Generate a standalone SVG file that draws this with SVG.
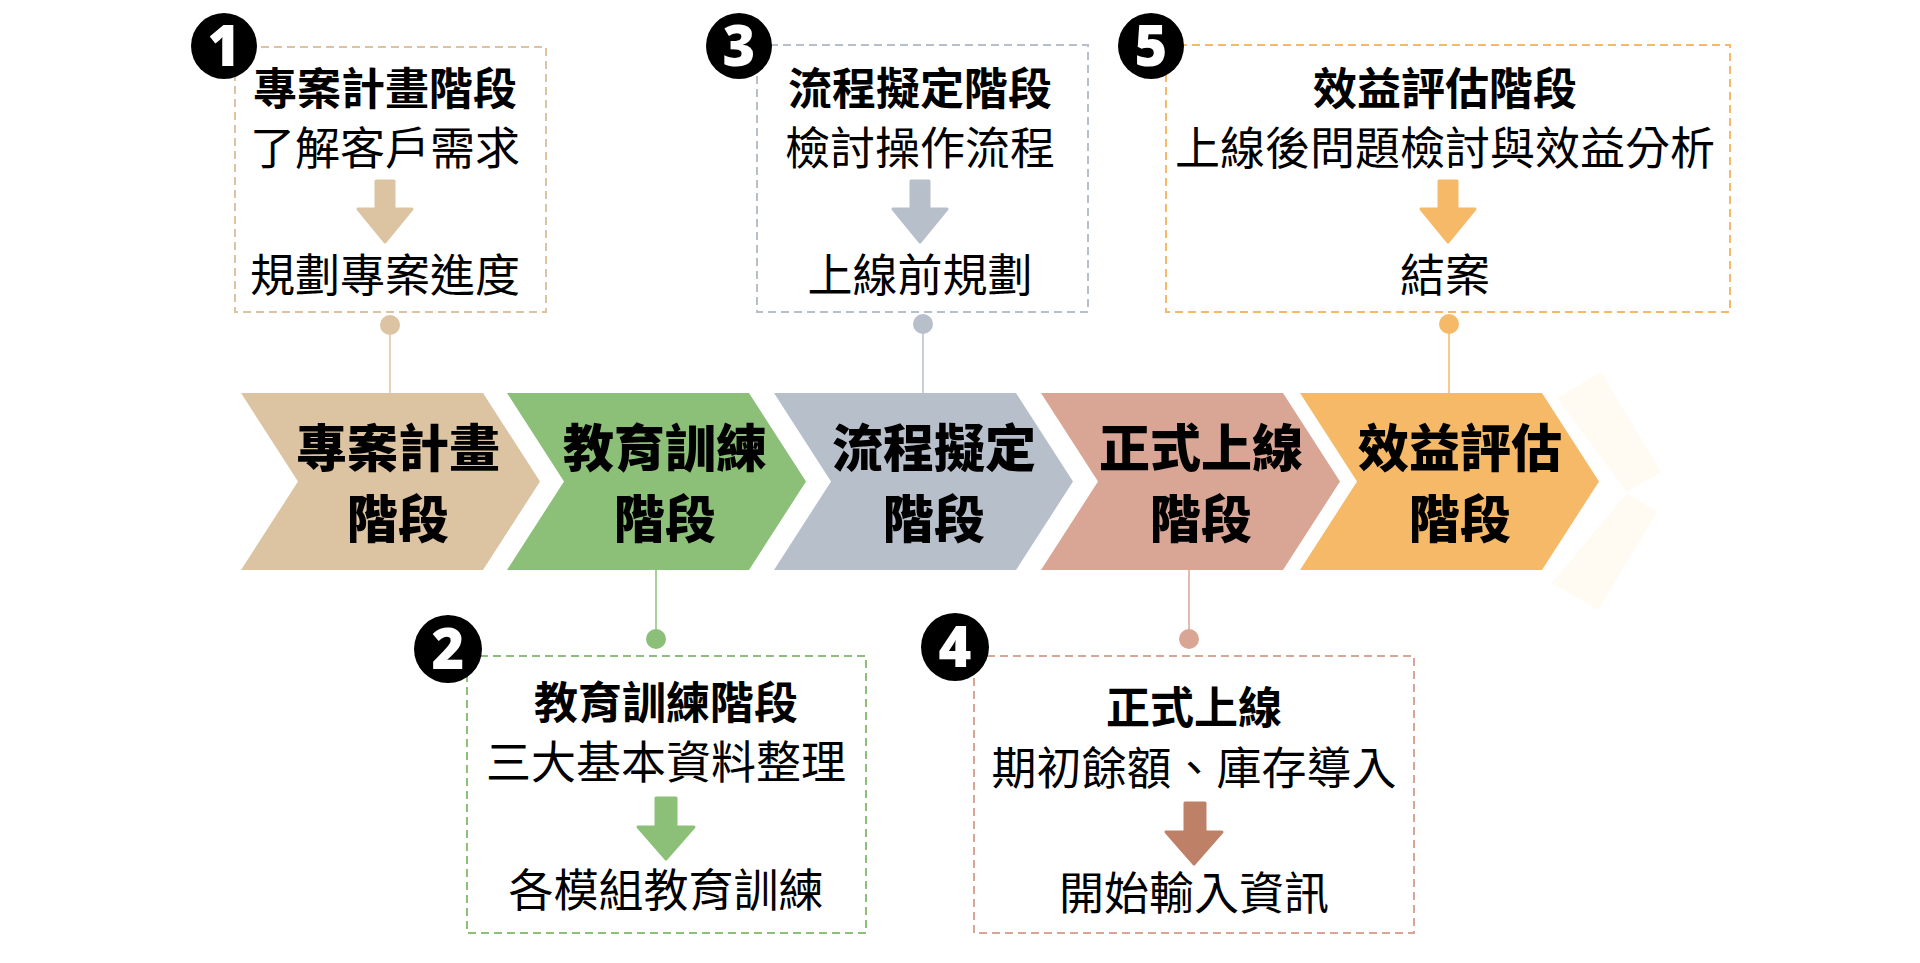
<svg xmlns="http://www.w3.org/2000/svg" width="1920" height="963" viewBox="0 0 1920 963">
<style>
.cjk{font-family:"Noto Sans CJK TC","Noto Sans CJK SC",sans-serif;text-anchor:middle;fill:#000}
.chev{font-size:51px;font-weight:900}
.ttl{font-size:44px;font-weight:700}
.txt{font-size:45px;font-weight:400}
.box{fill:none;stroke-width:2;stroke-dasharray:8 5}
.badge circle{fill:#000}
.badge text{font-family:"Noto Sans","DejaVu Sans",sans-serif;font-weight:900;font-size:56px;fill:#fff;text-anchor:middle}
.link{stroke-width:1.5;fill:none}
</style>
<rect width="1920" height="963" fill="#fff"/>

<!-- faint trailing chevron -->
<g id="faint">
<polygon points="1557,398 1601,372 1661,472 1627,492" fill="#FFFAF2"/>
<polygon points="1627,493 1657,512 1598,610 1552,583" fill="#FFFAF2"/>
</g>

<!-- connectors -->
<g id="connectors">
<line class="link" x1="390" y1="325" x2="390" y2="393" stroke="#DCC3A1"/>
<circle cx="390" cy="325" r="10" fill="#DCC3A1"/>
<line class="link" x1="923" y1="324" x2="923" y2="393" stroke="#B7BFCB"/>
<circle cx="923" cy="324" r="10" fill="#B7BFCB"/>
<line class="link" x1="1449" y1="324" x2="1449" y2="393" stroke="#F5B968"/>
<circle cx="1449" cy="324" r="10" fill="#F5B968"/>
<line class="link" x1="656" y1="570" x2="656" y2="639" stroke="#8CBF78"/>
<circle cx="656" cy="639" r="10" fill="#8CBF78"/>
<line class="link" x1="1189" y1="570" x2="1189" y2="639" stroke="#D9A594"/>
<circle cx="1189" cy="639" r="10" fill="#D9A594"/>
</g>

<!-- chevrons -->
<g id="chevron1">
<polygon points="241,393 483,393 540,481.5 483,570 241,570 298,481.5" fill="#DCC3A1"/>
<text class="cjk chev" x="398" y="467">專案計畫</text>
<text class="cjk chev" x="398" y="538">階段</text>
</g>
<g id="chevron2">
<polygon points="507,393 749,393 806,481.5 749,570 507,570 564,481.5" fill="#8CBF78"/>
<text class="cjk chev" x="665" y="467">教育訓練</text>
<text class="cjk chev" x="665" y="538">階段</text>
</g>
<g id="chevron3">
<polygon points="774,393 1016,393 1073,481.5 1016,570 774,570 831,481.5" fill="#B7BFCB"/>
<text class="cjk chev" x="934" y="467">流程擬定</text>
<text class="cjk chev" x="934" y="538">階段</text>
</g>
<g id="chevron4">
<polygon points="1041,393 1283,393 1340,481.5 1283,570 1041,570 1098,481.5" fill="#D9A594"/>
<text class="cjk chev" x="1201" y="467">正式上線</text>
<text class="cjk chev" x="1201" y="538">階段</text>
</g>
<g id="chevron5">
<polygon points="1300,393 1542,393 1599,481.5 1542,570 1300,570 1357,481.5" fill="#F5B968"/>
<text class="cjk chev" x="1460" y="467">效益評估</text>
<text class="cjk chev" x="1460" y="538">階段</text>
</g>

<!-- box 1 -->
<g id="box1">
<rect class="box" x="235" y="47" width="311" height="265" stroke="#DCC3A1"/>
<text class="cjk ttl" x="385" y="105">專案計畫階段</text>
<text class="cjk txt" x="385" y="165">了解客戶需求</text>
<polygon points="376,181 394,181 394,209 412,209 385,242 358,209 376,209" fill="#DCC3A1" stroke="#DCC3A1" stroke-width="3" stroke-linejoin="round"/>
<text class="cjk txt" x="385" y="292">規劃專案進度</text>
</g>
<g id="badge1" class="badge"><circle cx="224" cy="46" r="33"/><text x="224" y="66">1</text></g>

<!-- box 3 -->
<g id="box3">
<rect class="box" x="757" y="45" width="331" height="267" stroke="#B7BFCB"/>
<text class="cjk ttl" x="920" y="105">流程擬定階段</text>
<text class="cjk txt" x="920" y="165">檢討操作流程</text>
<polygon points="911,181 929,181 929,209 947,209 920,242 893,209 911,209" fill="#B7BFCB" stroke="#B7BFCB" stroke-width="3" stroke-linejoin="round"/>
<text class="cjk txt" x="920" y="292">上線前規劃</text>
</g>
<g id="badge3" class="badge"><circle cx="739" cy="46" r="33"/><text x="739" y="66">3</text></g>

<!-- box 5 -->
<g id="box5">
<rect class="box" x="1166" y="45" width="564" height="267" stroke="#F5B968"/>
<text class="cjk ttl" x="1445" y="105">效益評估階段</text>
<text class="cjk txt" x="1445" y="165">上線後問題檢討與效益分析</text>
<polygon points="1439,181 1457,181 1457,209 1475,209 1448,242 1421,209 1439,209" fill="#F5B968" stroke="#F5B968" stroke-width="3" stroke-linejoin="round"/>
<text class="cjk txt" x="1445" y="292">結案</text>
</g>
<g id="badge5" class="badge"><circle cx="1151" cy="46" r="33"/><text x="1151" y="66">5</text></g>

<!-- box 2 -->
<g id="box2">
<rect class="box" x="467" y="656" width="399" height="277" stroke="#8CBF78"/>
<text class="cjk ttl" x="666" y="719">教育訓練階段</text>
<text class="cjk txt" x="666" y="779">三大基本資料整理</text>
<polygon points="656,798 676,798 676,827 694,827 666,859 638,827 656,827" fill="#8CBF78" stroke="#8CBF78" stroke-width="3" stroke-linejoin="round"/>
<text class="cjk txt" x="666" y="907">各模組教育訓練</text>
</g>
<g id="badge2" class="badge"><circle cx="448" cy="649" r="34"/><text x="448" y="669">2</text></g>

<!-- box 4 -->
<g id="box4">
<rect class="box" x="974" y="656" width="440" height="277" stroke="#D9A594"/>
<text class="cjk ttl" x="1194" y="724">正式上線</text>
<text class="cjk txt" x="1194" y="785">期初餘額、庫存導入</text>
<polygon points="1185,803 1205,803 1205,832 1222,832 1194,864 1166,832 1185,832" fill="#BF8068" stroke="#BF8068" stroke-width="3" stroke-linejoin="round"/>
<text class="cjk txt" x="1194" y="910">開始輸入資訊</text>
</g>
<g id="badge4" class="badge"><circle cx="955" cy="647" r="34"/><text x="955" y="667">4</text></g>
</svg>
